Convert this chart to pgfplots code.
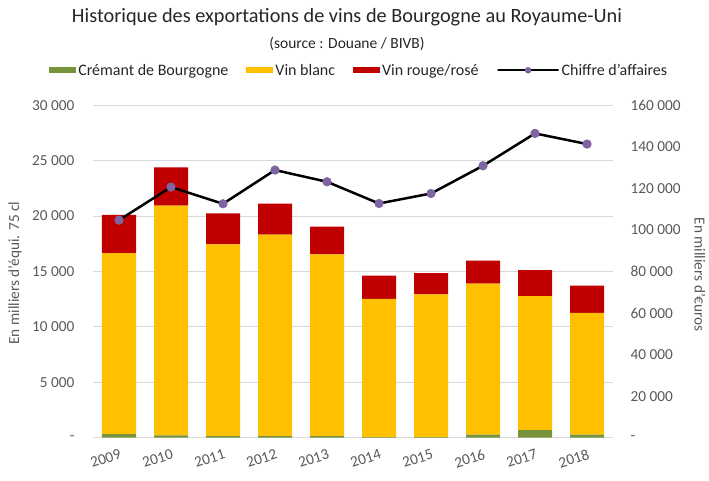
\documentclass[border=0pt]{standalone}
\usepackage{pgfplots}
\pgfplotsset{compat=1.18}
\usepackage{fontspec}
\setmainfont{Carlito}

\definecolor{cremant}{HTML}{77933C}
\definecolor{blanc}{HTML}{FFC000}
\definecolor{rouge}{HTML}{C00000}
\definecolor{mk}{HTML}{8064A2}
\definecolor{txt}{HTML}{595959}

% x: 0 = 2009 ... 9 = 2018
\pgfplotstableread{
x cremant blanc rouge ca
0 330 16320 3450 104700
1 220 20730 3450 120600
2 150 17300 2800 112560
3 150 18170 2800 128790
4 150 16400 2490 123150
5 50 12470 2100 112700
6 60 12880 1920 117520
7 270 13630 2080 130860
8 695 12070 2350 146420
9 270 10990 2460 141300
}\data

\pgfplotsset{
  base/.style={
    at={(93pt,42.3pt)}, anchor=south west,
    scale only axis, width=520pt, height=332.5pt,
    xmin=-0.5, xmax=9.5,
    axis line style={draw=none},
    major tick length=0pt,
    scaled y ticks=false,
    tick label style={font=\fontsize{15.3}{18}\selectfont, text=txt},
    label style={font=\fontsize{15.3}{18}\selectfont, text=txt},
  },
  barleg/.style={legend image code/.code={\fill[##1,draw=none] (0pt,-3pt) rectangle (27pt,3pt);}},
  lineleg/.style={legend image code/.code={\draw[mark repeat=2, mark phase=2, ##1] plot coordinates {(0pt,0pt) (13.5pt,0pt) (27pt,0pt)};}},
}

\begin{document}
\begin{tikzpicture}
\path[use as bounding box] (0pt,0pt) rectangle (709pt,480pt);
\node[font=\fontsize{20.3}{24}\selectfont, text=black!85] at (347pt,463pt) {Historique des exportations de vins de Bourgogne au Royaume-Uni};
\node[font=\fontsize{15.5}{18}\selectfont, text=black!85] at (347pt,436pt) {(source : Douane / BIVB)};

\begin{axis}[base,
  ybar stacked, bar width=34pt,
  ymin=0, ymax=30000,
  ytick={0,5000,...,30000},
  yticklabels={{-},{5 000},{10 000},{15 000},{20 000},{25 000},{30 000}},
  yticklabel style={xshift=-15pt},
  xtick={0,...,9},
  xticklabels={2009,2010,2011,2012,2013,2014,2015,2016,2017,2018},
  xticklabel style={rotate=18, anchor=north east, xshift=0pt, yshift=-7pt},
  ymajorgrids, major grid style={draw=black!15, line width=0.8pt},
  ylabel={En milliers d'équi. 75 cl},
  ylabel style={at={(axis description cs:-0.15,0.495)}, anchor=center},
  legend columns=4,
  legend style={at={(0.512,1.105)}, anchor=center, draw=none, fill=none,
    font=\fontsize{16}{19}\selectfont, text=black!85,
    /tikz/every even column/.append style={column sep=16pt}},
]
\addplot[fill=cremant, draw=none, barleg] table[x=x, y=cremant] {\data};
\addplot[fill=blanc, draw=none, barleg] table[x=x, y=blanc] {\data};
\addplot[fill=rouge, draw=none, barleg] table[x=x, y=rouge] {\data};
\addlegendimage{black, line width=2pt, mark=*, mark size=2.2pt, mark options={draw=mk, fill=mk}, lineleg}
\legend{Crémant de Bourgogne, Vin blanc, Vin rouge/rosé, Chiffre d'affaires}
\end{axis}

\begin{axis}[base,
  axis y line*=right, hide x axis, xtick=\empty,
  ymin=0, ymax=160000,
  ytick={0,20000,...,160000},
  yticklabels={{-},{20 000},{40 000},{60 000},{80 000},{100 000},{120 000},{140 000},{160 000}},
  yticklabel style={xshift=14pt},
  ylabel={En milliers d'€uros},
  ylabel style={at={(axis description cs:1.167,0.49)}, anchor=center, rotate=180},
]
\addplot[black, line width=2.5pt, mark=*, mark size=3.3pt, mark options={draw=mk, fill=mk}]
  table[x=x, y=ca] {\data};
\end{axis}
\end{tikzpicture}
\end{document}
